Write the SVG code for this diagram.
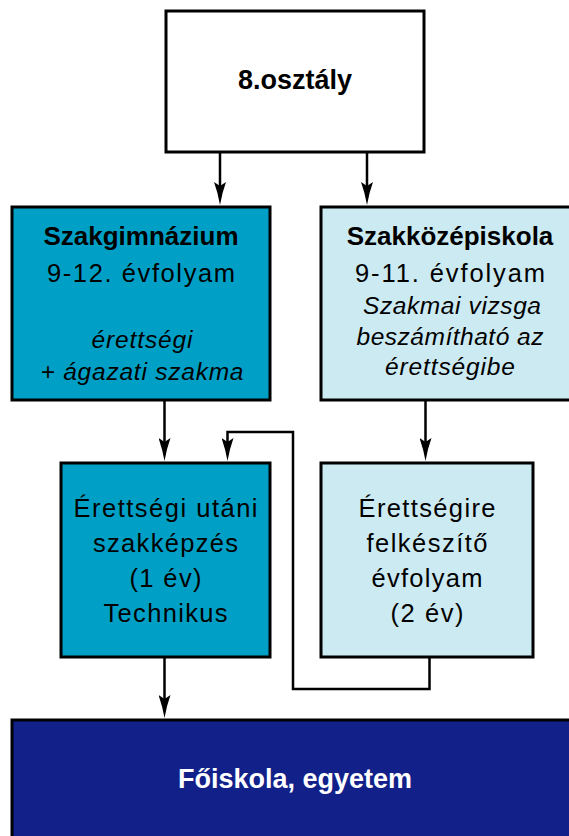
<svg xmlns="http://www.w3.org/2000/svg" width="569" height="836" viewBox="0 0 569 836">
  <style>
    .box { stroke: #000; stroke-width: 3; }
    .white { fill: #ffffff; }
    .teal { fill: #00a0c6; }
    .light { fill: #cceaf2; }
    .navy { fill: #12208a; }
    text { font-family: "Liberation Sans", Arial, sans-serif; fill: #000; text-anchor: middle; }
    .b { font-weight: bold; font-size: 26px; }
    .r { font-size: 25.5px; }
    .i { font-size: 24.5px; font-style: italic; }
    .wt { fill: #ffffff; }
    .conn { fill: none; stroke: #000; stroke-width: 2.5; }
  </style>
  <defs>
    <marker id="arr" markerUnits="userSpaceOnUse" viewBox="0 0 23 12" markerWidth="23" markerHeight="12" refX="15" refY="6" orient="auto">
      <path d="M0,0 Q11,4 23,6 Q11,8 0,12 L4,6 Z" fill="#000"/>
    </marker>
  </defs>

  <g id="node-8osztaly">
    <rect class="box white" x="166" y="11" width="258" height="141"/>
    <text class="b" x="295" y="89" style="font-size:27px">8.osztály</text>
  </g>

  <g id="node-szakgimnazium">
    <rect class="box teal" x="12" y="207" width="258" height="193"/>
    <text class="b" x="141" y="245">Szakgimnázium</text>
    <text class="r" x="141" y="282" textLength="188" lengthAdjust="spacing">9-12. évfolyam</text>
    <text class="i" x="142" y="348" textLength="101" lengthAdjust="spacing">érettségi</text>
    <text class="i" x="142" y="380" textLength="203" lengthAdjust="spacing">+ ágazati szakma</text>
  </g>

  <g id="node-szakkozepiskola">
    <rect class="box light" x="321" y="207" width="262" height="193"/>
    <text class="b" x="450" y="245">Szakközépiskola</text>
    <text class="r" x="450" y="282" textLength="190" lengthAdjust="spacing">9-11. évfolyam</text>
    <text class="i" x="452" y="314" textLength="178" lengthAdjust="spacing">Szakmai vizsga</text>
    <text class="i" x="450" y="345" textLength="187" lengthAdjust="spacing">beszámítható az</text>
    <text class="i" x="450" y="375" textLength="130" lengthAdjust="spacing">érettségibe</text>
  </g>

  <g id="node-erettsegi-utani">
    <rect class="box teal" x="61" y="463" width="209" height="194"/>
    <text class="r" x="165.5" y="517" textLength="184" lengthAdjust="spacing">Érettségi utáni</text>
    <text class="r" x="165.5" y="552" textLength="145" lengthAdjust="spacing">szakképzés</text>
    <text class="r" x="165.5" y="587" textLength="72" lengthAdjust="spacing">(1 év)</text>
    <text class="r" x="165.5" y="622" textLength="124" lengthAdjust="spacing">Technikus</text>
  </g>

  <g id="node-erettsegire">
    <rect class="box light" x="321" y="463" width="212" height="194"/>
    <text class="r" x="427" y="517" textLength="137" lengthAdjust="spacing">Érettségire</text>
    <text class="r" x="427" y="552" textLength="121" lengthAdjust="spacing">felkészítő</text>
    <text class="r" x="427" y="587" textLength="111" lengthAdjust="spacing">évfolyam</text>
    <text class="r" x="427" y="622" textLength="73" lengthAdjust="spacing">(2 év)</text>
  </g>

  <g id="node-foiskola">
    <rect class="box navy" x="12" y="720" width="572" height="130"/>
    <text class="b wt" x="295" y="788" style="font-size:27px">Főiskola, egyetem</text>
  </g>

  <g id="connectors">
    <path class="conn" d="M220,152 L220,197" marker-end="url(#arr)"/>
    <path class="conn" d="M367,152 L367,197" marker-end="url(#arr)"/>
    <path class="conn" d="M164.5,400 L164.5,453" marker-end="url(#arr)"/>
    <path class="conn" d="M425.5,400 L425.5,453" marker-end="url(#arr)"/>
    <path class="conn" d="M429.5,657 L429.5,689 L293,689 L293,432 L227.5,432 L227.5,453" marker-end="url(#arr)"/>
    <path class="conn" d="M164.5,657 L164.5,710" marker-end="url(#arr)"/>
  </g>
</svg>
